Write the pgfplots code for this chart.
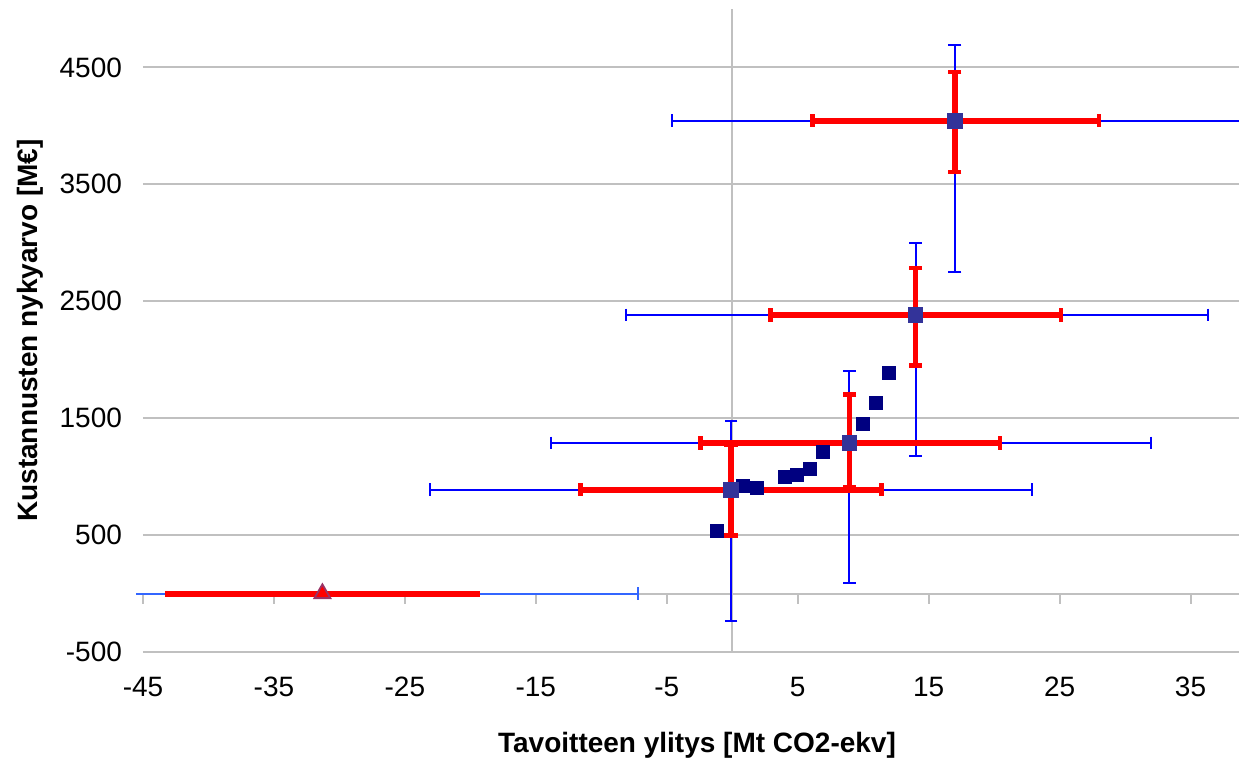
\documentclass[border=0pt]{standalone}
\usepackage{pgfplots}
\pgfplotsset{compat=1.18}
\usepackage{fontspec}
\setmainfont{Liberation Sans}
\definecolor{gridgray}{RGB}{192,192,192}
\definecolor{navyc}{RGB}{0,0,128}
\definecolor{ptc}{RGB}{51,51,153}
\definecolor{triedge}{RGB}{153,51,102}
\definecolor{blueA}{RGB}{0,0,255}
\definecolor{blueP}{RGB}{51,102,255}
\definecolor{redA}{RGB}{255,0,0}
\begin{document}
\begin{tikzpicture}
\pgfplotsset{
  common/.style={
    scale only axis, width=548pt, height=321.5pt,
    xmin=-45, xmax=38.7, ymin=-500, ymax=5000,
    xtick={-45,-35,...,35}, ytick={-500,500,...,4500},
  },
  % wide (blue) bars
  bh/.style={blueA, line width=1pt, mark=|, mark size=3.2pt, mark options={solid, blueA, line width=1pt}},
  bv/.style={blueA, line width=1pt, mark=-, mark size=3.2pt, mark options={solid, blueA, line width=1pt}},
  % narrow (red) bars
  rh/.style={redA, line width=2.8pt, mark=|, mark size=3.3pt, mark options={solid, redA, line width=2.4pt}},
  rv/.style={redA, line width=2.8pt, mark=-, mark size=3.3pt, mark options={solid, redA, line width=2.4pt}},
}
% background: grid, axis lines through the origin, ticks
\begin{axis}[common,
  axis x line=middle, axis y line=middle,
  axis line style={-, draw=gridgray, line width=1pt},
  xticklabels={}, yticklabels={},
  tick align=outside, major tick length=5pt,
  tick style={draw=gridgray, line width=1pt},
  ymajorgrids, grid style={draw=gridgray, line width=1pt},
]
\end{axis}
% foreground: labels and data
\begin{axis}[common, name=ax,
  axis line style={draw=none}, major tick length=0pt,
  /pgf/number format/assume math mode=true,
  /pgf/number format/1000 sep={},
  scaled ticks=false,
  tick label style={font=\fontsize{14}{16}\selectfont},
  yticklabel style={xshift=-7pt},
  xticklabel style={yshift=-9pt},
  xlabel={Tavoitteen ylitys [Mt CO2-ekv]},
  ylabel={Kustannusten nykyarvo [M€]},
  label style={font=\fontsize{14}{16}\selectfont\bfseries},
  xlabel style={at={(axis description cs:0.5055,-0.1446)}, anchor=center},
  ylabel style={at={(axis description cs:-0.1031,0.5)}, anchor=center},
  clip=false,
]
% ---- wide (blue) ranges: horizontal
\addplot[bh] coordinates {(-23.1,887) (22.9,887)};
\addplot[bh] coordinates {(-13.85,1288) (31.95,1288)};
\addplot[bh] coordinates {(-8.1,2382) (36.3,2382)};
\addplot[bh, mark indices={1}] coordinates {(-4.6,4043) (38.7,4043)};
\addplot[bh, blueP, mark indices={2}, mark options={solid, blueP, line width=1pt}] coordinates {(-45.5,0) (-7.2,0)};
% ---- wide (blue) ranges: vertical
\addplot[bv] coordinates {(-0.1,-237) (-0.1,1477)};
\addplot[bv] coordinates {(8.95,88) (8.95,1903)};
\addplot[bv] coordinates {(14.0,1173) (14.0,3002)};
\addplot[bv] coordinates {(17.0,2747) (17.0,4695)};
% ---- narrow (red) ranges: horizontal
\addplot[rh] coordinates {(-11.6,887) (11.4,887)};
\addplot[rh] coordinates {(-2.4,1288) (20.45,1288)};
\addplot[rh] coordinates {(2.9,2382) (25.1,2382)};
\addplot[rh] coordinates {(6.1,4043) (28.0,4043)};
\addplot[redA, line width=3pt] coordinates {(-43.3,0) (-19.3,0)};
% ---- narrow (red) ranges: vertical
\addplot[rv] coordinates {(-0.1,495) (-0.1,1273)};
\addplot[rv] coordinates {(8.95,907) (8.95,1703)};
\addplot[rv] coordinates {(14.0,1950) (14.0,2785)};
\addplot[rv] coordinates {(17.0,3606) (17.0,4461)};
% ---- small squares
\addplot[only marks, mark=square*, mark size=3.25pt, color=navyc]
coordinates {
(-1.15,534) (0.85,919) (1.85,905) (4.0,1001) (4.9,1018)
(5.9,1067) (6.95,1211) (9.95,1452) (10.95,1630) (11.95,1885)
};
% ---- main points
\addplot[only marks, mark=square*, mark size=3.6pt, color=ptc]
coordinates {
(-0.1,887) (8.95,1288) (14.0,2382) (17.0,4043)
};
\addplot[only marks, mark=triangle*, mark size=4.6pt,
  mark options={fill=redA, draw=triedge, line width=0.9pt}]
coordinates {(-31.3,0)};
\end{axis}
\pgfresetboundingbox
\path ([xshift=-71.5pt,yshift=-53pt]ax.south west) rectangle ([yshift=4.5pt]ax.north east);
\end{tikzpicture}
\end{document}
